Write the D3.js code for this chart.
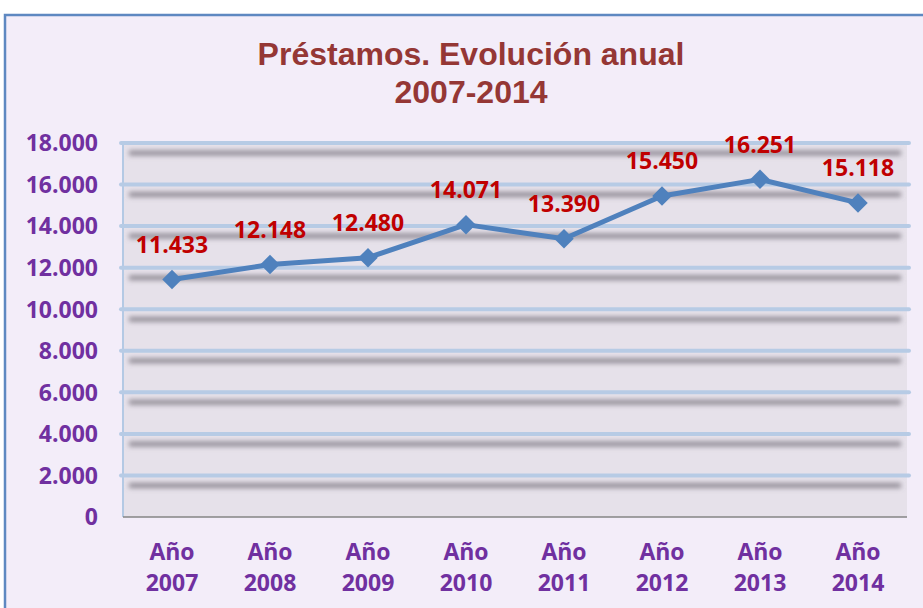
<!DOCTYPE html>
<html lang="es">
<head>
  <meta charset="utf-8">
  <title>Préstamos. Evolución anual 2007-2014</title>
  <script src="https://d3js.org/d3.v7.min.js"></script>
  <style>
    html, body { margin: 0; padding: 0; background: #ffffff; }
  </style>
</head>
<body>
<div id="chart"></div>
<script>
  // datos
  var years = ["2007", "2008", "2009", "2010", "2011", "2012", "2013", "2014"];
  var prestamos = [11433, 12148, 12480, 14071, 13390, 15450, 16251, 15118];
  var yTicks = [0, 2000, 4000, 6000, 8000, 10000, 12000, 14000, 16000, 18000];
  var titleLines = ["Préstamos. Evolución anual", "2007-2014"];

  var W = 923, H = 608;
  var plot = { left: 123, right: 907, top: 143, bottom: 517 };

  var fmt = function (v) {
    // separador de miles con punto
    return d3.format(",")(v).replace(/,/g, ".");
  };

  var svg = d3.select("#chart").append("svg")
    .attr("width", W)
    .attr("height", H);

  var defs = svg.append("defs");
  defs.append("filter").attr("id", "blur")
    .attr("x", "-5%").attr("y", "-300%").attr("width", "110%").attr("height", "700%")
    .append("feGaussianBlur").attr("stdDeviation", "2.5 2.8");

  // fondo exterior
  svg.append("rect")
    .attr("x", 5).attr("y", 15)
    .attr("width", W + 10).attr("height", H + 10)
    .attr("fill", "#f3edf9")
    .attr("stroke", "#5e88c1")
    .attr("stroke-width", 2.5);

  // fondo del área de trazado
  svg.append("rect")
    .attr("x", plot.left).attr("y", plot.top)
    .attr("width", plot.right - plot.left)
    .attr("height", plot.bottom - plot.top)
    .attr("fill", "#e6e1ea");

  var x = d3.scaleBand()
    .domain(years)
    .range([plot.left, plot.right]);

  var y = d3.scaleLinear()
    .domain([0, 18000])
    .range([plot.bottom, plot.top]);

  var grid = yTicks.filter(function (d) { return d > 0; });

  // sombras de las líneas de división
  svg.append("g").attr("filter", "url(#blur)")
    .selectAll("line").data(grid).enter().append("line")
    .attr("x1", plot.left + 6).attr("x2", plot.right - 6)
    .attr("y1", function (d) { return y(d) + 10; })
    .attr("y2", function (d) { return y(d) + 10; })
    .attr("stroke", "#7a7580")
    .attr("stroke-opacity", 0.8)
    .attr("stroke-width", 5);

  // eje vertical
  svg.append("line")
    .attr("x1", plot.left).attr("x2", plot.left)
    .attr("y1", plot.top).attr("y2", plot.bottom)
    .attr("stroke", "#b4c9e4")
    .attr("stroke-width", 2);

  // líneas de división
  svg.append("g")
    .selectAll("line").data(grid).enter().append("line")
    .attr("x1", plot.left - 2).attr("x2", plot.right + 2)
    .attr("y1", function (d) { return y(d); })
    .attr("y2", function (d) { return y(d); })
    .attr("stroke", "#b7cbe5")
    .attr("stroke-width", 4)
    .attr("stroke-linecap", "round");

  // eje horizontal
  svg.append("line")
    .attr("x1", plot.left).attr("x2", plot.right)
    .attr("y1", plot.bottom).attr("y2", plot.bottom)
    .attr("stroke", "#858585")
    .attr("stroke-width", 1.5);

  // etiquetas eje Y
  svg.append("g")
    .selectAll("text").data(yTicks).enter().append("text")
    .attr("x", 98)
    .attr("y", function (d) { return y(d); })
    .attr("dy", "0.36em")
    .attr("text-anchor", "end")
    .attr("font-family", "'Open Sans', sans-serif")
    .attr("font-weight", "bold")
    .attr("font-size", 23)
    .attr("fill", "#7030a0")
    .text(function (d) { return fmt(d); });

  // etiquetas eje X
  var xl = svg.append("g")
    .selectAll("text").data(years).enter().append("text")
    .attr("text-anchor", "middle")
    .attr("font-family", "'Open Sans', sans-serif")
    .attr("font-weight", "bold")
    .attr("font-size", 23)
    .attr("fill", "#7030a0");
  xl.append("tspan")
    .attr("x", function (d) { return x(d) + x.bandwidth() / 2; })
    .attr("y", 560)
    .text("Año");
  xl.append("tspan")
    .attr("x", function (d) { return x(d) + x.bandwidth() / 2; })
    .attr("y", 591)
    .text(function (d) { return d; });

  var pts = years.map(function (yr, i) { return { year: yr, value: prestamos[i] }; });
  var cx = function (d) { return x(d.year) + x.bandwidth() / 2; };

  // línea
  svg.append("path")
    .datum(pts)
    .attr("fill", "none")
    .attr("stroke", "#4f81bd")
    .attr("stroke-width", 5)
    .attr("stroke-linejoin", "round")
    .attr("d", d3.line().x(cx).y(function (d) { return y(d.value); }));

  // marcadores
  svg.append("g")
    .selectAll("path").data(pts).enter().append("path")
    .attr("d", d3.symbol().type(d3.symbolSquare).size(190))
    .attr("transform", function (d) {
      return "translate(" + cx(d) + "," + y(d.value) + ") rotate(45)";
    })
    .attr("fill", "#4f81bd");

  // etiquetas de datos
  svg.append("g")
    .selectAll("text").data(pts).enter().append("text")
    .attr("x", cx)
    .attr("y", function (d) { return y(d.value) - 35; })
    .attr("dy", "0.36em")
    .attr("text-anchor", "middle")
    .attr("font-family", "'Open Sans', sans-serif")
    .attr("font-weight", "bold")
    .attr("font-size", 23)
    .attr("fill", "#c00000")
    .text(function (d) { return fmt(d.value); });

  // título
  svg.append("g")
    .selectAll("text").data(titleLines).enter().append("text")
    .attr("x", 471)
    .attr("y", function (d, i) { return 65 + i * 38; })
    .attr("text-anchor", "middle")
    .attr("font-family", "'Liberation Sans', Arial, sans-serif")
    .attr("font-weight", "bold")
    .attr("font-size", 32)
    .attr("fill", "#953735")
    .text(function (d) { return d; });
</script>
</body>
</html>
